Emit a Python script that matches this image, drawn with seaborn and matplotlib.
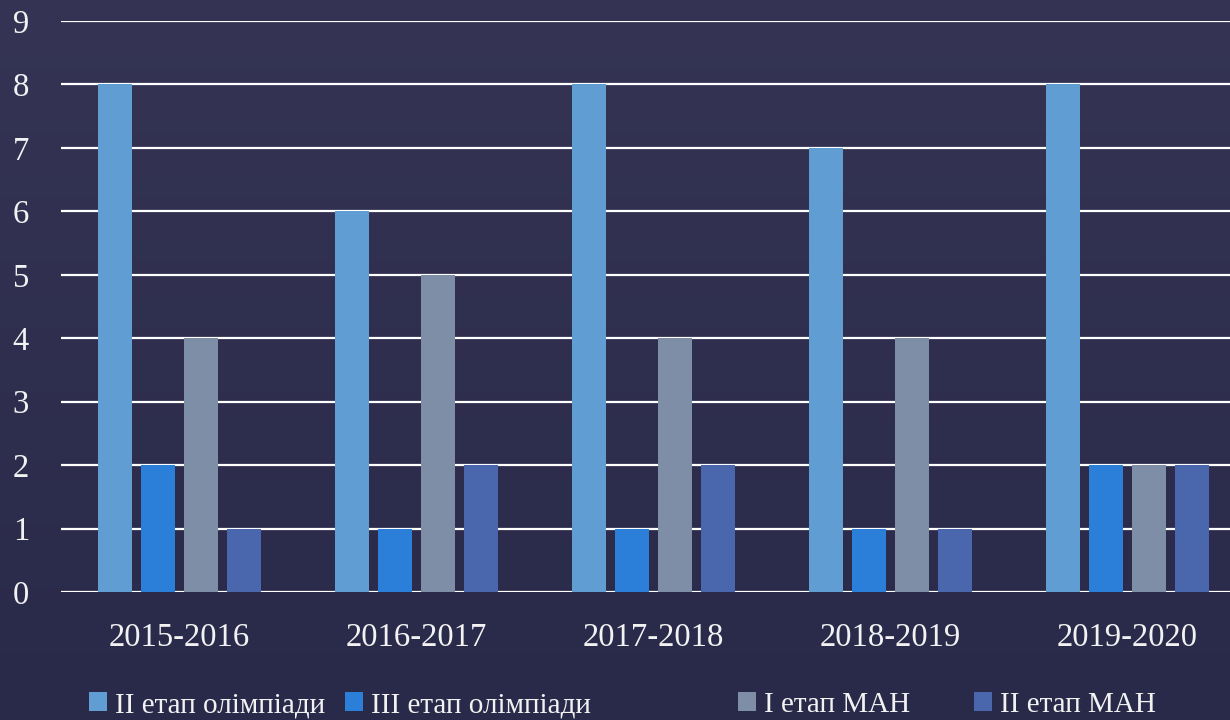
import numpy as np
import pandas as pd
import matplotlib
matplotlib.use("Agg")
import matplotlib.pyplot as plt
import matplotlib.patches as mpatches
from matplotlib.colors import LinearSegmentedColormap
import seaborn as sns

years = ["2015-2016", "2016-2017", "2017-2018", "2018-2019", "2019-2020"]
series_names = ["II етап олімпіади", "III етап олімпіади", "I етап МАН", "II етап МАН"]
olymp2 = [8, 6, 8, 7, 8]
olymp3 = [2, 1, 1, 1, 2]
man1 = [4, 5, 4, 4, 2]
man2 = [1, 2, 2, 1, 2]
colors = ["#5f9dd3", "#2b7fd8", "#7f8ea7", "#4a66ad"]
yticks = list(range(0, 10))

df = pd.DataFrame({
    "year": years * 4,
    "series": sum([[s] * len(years) for s in series_names], []),
    "value": olymp2 + olymp3 + man1 + man2,
})

sns.set_theme(style="white")
plt.rcParams["font.family"] = ["Liberation Serif", "DejaVu Serif"]

fig = plt.figure(figsize=(12.3, 7.2), dpi=100)
fig.patch.set_facecolor("#30304f")

# background gradient
bg = fig.add_axes([0, 0, 1, 1], zorder=-5)
grad = np.linspace(0, 1, 256).reshape(-1, 1)
cmap = LinearSegmentedColormap.from_list("bg", ["#353455", "#29294a"])
bg.imshow(grad, aspect="auto", cmap=cmap, extent=[0, 1, 0, 1])
bg.set_axis_off()

ax = fig.add_axes([61 / 1230, 128 / 720, 1185 / 1230, 571 / 720])
ax.set_facecolor("none")

sns.barplot(data=df, x="year", y="value", hue="series", hue_order=series_names,
            palette=colors, saturation=1, width=0.7257, gap=0.209,
            legend=False, ax=ax, zorder=3, linewidth=0)

ax.set_ylim(0, 9)
ax.set_xlim(-0.5, 4.5)
ax.set_yticks(yticks)
ax.set_yticklabels([str(t) for t in yticks])
ax.grid(axis="y", color="white", linewidth=1.6, zorder=0)
ax.set_axisbelow(True)
for s in ax.spines.values():
    s.set_visible(False)
ax.set_xlabel("")
ax.set_ylabel("")
ax.tick_params(axis="both", length=0, colors="#f2f2f2", labelsize=23.5)
ax.tick_params(axis="y", pad=23)
ax.tick_params(axis="x", pad=22)

# legend items
xs = [89 / 1230, 345 / 1230, 738 / 1230, 974 / 1230]
for name, col, x in zip(series_names, colors, xs):
    h = mpatches.Patch(facecolor=col, edgecolor="none")
    fig.legend(handles=[h], labels=[name], loc="center left",
               bbox_to_anchor=(x, 15 / 720), frameon=False,
               borderpad=0, borderaxespad=0, handlelength=0.6,
               handleheight=0.6, handletextpad=0.3, fontsize=21,
               labelcolor="#f2f2f2")

fig.savefig("out.png", dpi=100, facecolor=fig.get_facecolor())
